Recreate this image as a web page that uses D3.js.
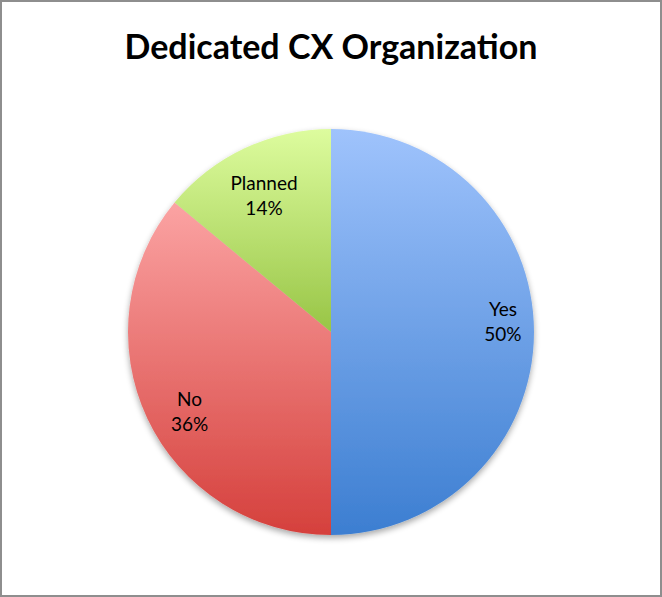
<!DOCTYPE html>
<html><head><meta charset="utf-8">
<script src="https://cdn.jsdelivr.net/npm/d3@7"></script>
<style>html,body{margin:0;padding:0;background:#fff;}svg{display:block;}</style>
</head><body>
<svg id="chart" width="662" height="597"></svg>
<script>
const title = "Dedicated CX Organization";
const categories = ["Yes", "No", "Planned"];
const values = [50, 36, 14];
const colorsTop = ["#9fc3fc", "#fba3a3", "#ddfc9e"];
const colorsBottom = ["#3c7ed1", "#d5403c", "#98c546"];

const W = 662, H = 597;
const cx = 331, cy = 332, R = 203;
// label layout: radial factor and vertical nudge (px), per slice
const labelFactor = [0.847, 0.77, 0.775];
const labelNudge = [-11, 12.5, 5.5];

const svg = d3.select("#chart");
const defs = svg.append("defs");

categories.forEach((c, i) => {
  const g = defs.append("linearGradient").attr("id", "g" + i)
    .attr("x1", 0).attr("y1", 0).attr("x2", 0).attr("y2", 1);
  g.append("stop").attr("offset", "0%").attr("stop-color", colorsTop[i]);
  g.append("stop").attr("offset", "100%").attr("stop-color", colorsBottom[i]);
});

const f = defs.append("filter").attr("id", "shadow")
  .attr("x", "-20%").attr("y", "-20%").attr("width", "140%").attr("height", "140%");
f.append("feGaussianBlur").attr("in", "SourceAlpha").attr("stdDeviation", 3);
f.append("feOffset").attr("dy", 3).attr("result", "ob");
f.append("feComponentTransfer").append("feFuncA").attr("type", "linear").attr("slope", 0.35);
const m = f.append("feMerge");
m.append("feMergeNode");
m.append("feMergeNode").attr("in", "SourceGraphic");

svg.append("rect").attr("x", 1).attr("y", 1).attr("width", W - 2).attr("height", H - 2)
  .attr("fill", "#fff").attr("stroke", "#8e8e8e").attr("stroke-width", 2);

svg.append("text").attr("x", 331).attr("y", 59).attr("text-anchor", "middle")
  .attr("font-family", "Lato, 'Open Sans', sans-serif").attr("font-weight", "bold")
  .attr("font-size", 34).attr("fill", "#000").text(title);

const data = categories.map((c, i) => ({ name: c, value: values[i], i }));
const pie = d3.pie().value(d => d.value).sort(null);
const arcs = pie(data);
const arc = d3.arc().innerRadius(0).outerRadius(R);

const gs = svg.append("g").attr("transform", `translate(${cx},${cy})`).attr("filter", "url(#shadow)");
gs.selectAll("path").data(arcs).join("path")
  .attr("d", arc)
  .attr("fill", d => `url(#g${d.data.i})`);

const total = d3.sum(values);
const lg = svg.append("g").attr("font-family", "Lato, 'Open Sans', sans-serif")
  .attr("font-size", 19).attr("fill", "#000").attr("text-anchor", "middle");
arcs.forEach(a => {
  const ang = (a.startAngle + a.endAngle) / 2;
  const r = R * labelFactor[a.data.i];
  const x = cx + r * Math.sin(ang);
  const y = cy - r * Math.cos(ang) + labelNudge[a.data.i];
  const t = lg.append("text").attr("x", x).attr("y", y - 12.5 + 7);
  t.append("tspan").attr("x", x).text(a.data.name);
  t.append("tspan").attr("x", x).attr("dy", 25).text(Math.round(a.data.value / total * 100) + "%");
});
</script>
</body></html>
